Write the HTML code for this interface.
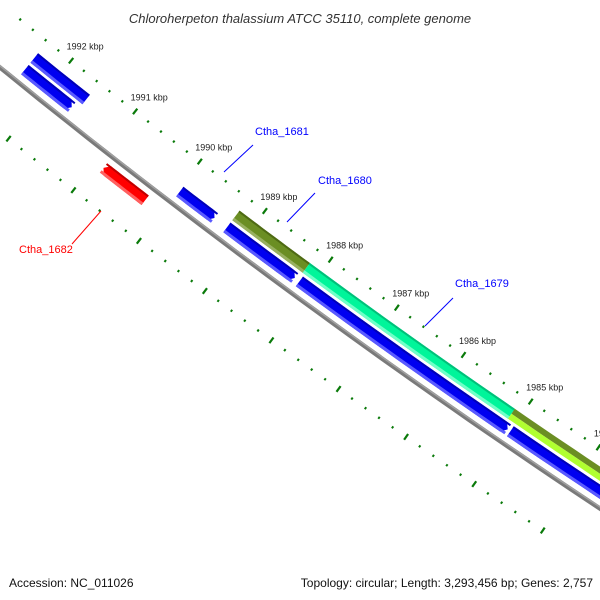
<!DOCTYPE html>
<html><head><meta charset="utf-8"><style>
html,body{margin:0;padding:0;background:#fff;}
svg{display:block;font-family:"Liberation Sans",sans-serif;}
</style></head><body>
<svg id="chart" width="600" height="600" viewBox="0 0 600 600" xmlns="http://www.w3.org/2000/svg">
<g id="ticks"></g>
<g id="backbone"></g>
<g id="features"></g>
<g id="labels"></g>
<g font-size="11">
<line x1="253" y1="145" x2="224" y2="172" stroke="#0000ff" stroke-width="1"/>
<text x="255" y="135" fill="#0000ff">Ctha_1681</text>
<line x1="315" y1="193" x2="287" y2="222" stroke="#0000ff" stroke-width="1"/>
<text x="318" y="184" fill="#0000ff">Ctha_1680</text>
<line x1="453" y1="298" x2="425" y2="326" stroke="#0000ff" stroke-width="1"/>
<text x="455" y="287" fill="#0000ff">Ctha_1679</text>
<line x1="72" y1="244" x2="101" y2="211" stroke="#ff0000" stroke-width="1"/>
<text x="19" y="253" fill="#ff0000">Ctha_1682</text>
</g>
<text x="300" y="23" text-anchor="middle" font-size="13" font-style="italic" fill="#333">Chloroherpeton thalassium ATCC 35110, complete genome</text>
<text x="9" y="587" font-size="12" fill="#111">Accession: NC_011026</text>
<text x="593" y="587" text-anchor="end" font-size="12" fill="#111">Topology: circular; Length: 3,293,456 bp; Genes: 2,757</text>
</svg>
<script>
const tickMajors = [1984, 1985, 1986, 1987, 1988, 1989, 1990, 1991, 1992, 1993];
const tickLabels = ["1984 kbp","1985 kbp","1986 kbp","1987 kbp","1988 kbp","1989 kbp","1990 kbp","1991 kbp","1992 kbp","1993 kbp"];
const featStart = [1992.37, 1992.37, 1990.88, 1989.97, 1989.25, 1988.15, 1985.00, 1989.25, 1988.18, 1985.11, 1985.11];
const featEnd   = [1991.56, 1991.64, 1990.24, 1989.44, 1988.22, 1985.04, 1983.00, 1988.18, 1985.11, 1983.00, 1983.00];
const featTrack = ["t2","t1","rev","t1","t1","t1","t1","t2","t2","t2up","t2lo"];
const featColor = ["blue","blue","red","blue","blue","blue","blue","olive","spring","olive","lime"];
const featNames = ["gene-1992a","gene-1992b","ctha-1682","ctha-1681","ctha-1680-a","ctha-1680-b","gene-1985","olive-1989","ctha-1679","olive-1985","lime-1985"];

const NS = "http://www.w3.org/2000/svg";
const CX = 4855, CY = -5909, R0 = 7700;
const TH0 = Math.atan2(57 - CY, 74 - CX);
const TH1 = Math.atan2(407 - CY, 527 - CX);
const DTH = (TH0 - TH1) / 7;
function ang(k){ return TH0 - (1992 - k) * DTH; }
function pt(k, v){ const t = ang(k), r = R0 - v; return [CX + r*Math.cos(t), CY + r*Math.sin(t)]; }
const trackV = { t1:[8,20], t2:[23,35], rev:[-20,-8], t2up:[29,35], t2lo:[23,29] };
const palette = {
  blue:["#0000f0","#5a5aff","#0000b8"],
  red:["#ff0000","#ff6060","#c00000"],
  olive:["#6b8e23","#98b060","#4e6a14"],
  spring:["#00f59a","#70ffc8","#00c07a"],
  lime:["#b0ff30","#d8ff80","#8ccc20"]
};
function band(k1,k2,v1,v2,arrow){
  const n = 12, pts = [];
  const ah = 0.06;
  let a1=k1,a2=k2;
  if(arrow==="fwd") a2 = k2 + ah;
  if(arrow==="rev") a1 = k1 - ah;
  for(let i=0;i<=n;i++){ pts.push(pt(a1+(a2-a1)*i/n, v2)); }
  if(arrow==="fwd") pts.push(pt(k2,(v1+v2)/2));
  for(let i=n;i>=0;i--){ pts.push(pt(a1+(a2-a1)*i/n, v1)); }
  if(arrow==="rev") pts.push(pt(k1,(v1+v2)/2));
  return pts.map(p=>p[0].toFixed(1)+","+p[1].toFixed(1)).join(" ");
}
const fg = document.getElementById("features");
for(let i=0;i<featStart.length;i++){
  const [v1,v2] = trackV[featTrack[i]];
  const col = palette[featColor[i]];
  let arrow = "none";
  if(featTrack[i]==="t1") arrow="fwd";
  if(featTrack[i]==="rev") arrow="rev";
  const g = document.createElementNS(NS,"g");
  
  
  const main = document.createElementNS(NS,"polygon");
  
  
  main.setAttribute("points", band(featStart[i],featEnd[i],v1,v2,arrow));
  main.setAttribute("fill", col[0]);
  g.appendChild(main);
  const split = featTrack[i]==="t2up"||featTrack[i]==="t2lo";
  if(!split){
    const lo = document.createElementNS(NS,"polygon");
    
    
    lo.setAttribute("points", band(featStart[i],featEnd[i],v1,v1+3,"none"));
    lo.setAttribute("fill", col[1]);
    g.appendChild(lo);
    const hi = document.createElementNS(NS,"polygon");
    
    
    hi.setAttribute("points", band(featStart[i],featEnd[i],v2-2,v2,"none"));
    hi.setAttribute("fill", col[2]);
    g.appendChild(hi);
  }
  fg.appendChild(g);
}
// backbone
const bb = document.getElementById("backbone");
const bpts = [];
for(let k=1994;k>=1982;k-=0.25){ const p=pt(k,0); bpts.push(p[0].toFixed(1)+","+p[1].toFixed(1)); }
const bl = document.createElementNS(NS,"polyline");


bl.setAttribute("points", bpts.join(" "));
bl.setAttribute("fill","none"); bl.setAttribute("stroke","#7a7a7a"); bl.setAttribute("stroke-width","4.5");
bb.appendChild(bl);
const bl2 = document.createElementNS(NS,"polyline");


bl2.setAttribute("points", bpts.join(" "));
bl2.setAttribute("fill","none"); bl2.setAttribute("stroke","#a0a0a0"); bl2.setAttribute("stroke-width","1.5");
bl2.setAttribute("transform","translate(0.8,-1)");
bb.appendChild(bl2);
// ticks
const tg = document.getElementById("ticks");
for(let m=0;m<tickMajors.length-1;m++){
  for(let s=0;s<5;s++){
    const k = tickMajors[m] + s*0.2;
    const major = s===0;
    [50,-50].forEach(function(vc){
      const half = major?3.5:1.2;
      const a = pt(k, vc-half), b = pt(k, vc+half);
      const ln = document.createElementNS(NS,"line");
      
      
      ln.setAttribute("x1",a[0].toFixed(1)); ln.setAttribute("y1",a[1].toFixed(1));
      ln.setAttribute("x2",b[0].toFixed(1)); ln.setAttribute("y2",b[1].toFixed(1));
      ln.setAttribute("stroke","#0a7a0a"); ln.setAttribute("stroke-width", major?"2.2":"2");
      tg.appendChild(ln);
    });
  }
}
const lg = document.getElementById("labels");
for(let m=0;m<tickMajors.length;m++){
  const p = pt(tickMajors[m], 50);
  const t = document.createElementNS(NS,"text");
  
  
  t.setAttribute("x",(p[0]+14).toFixed(1)); t.setAttribute("y",(p[1]-11).toFixed(1));
  t.setAttribute("text-anchor","middle"); t.setAttribute("font-size","9"); t.setAttribute("fill","#222");
  t.textContent = tickLabels[m];
  lg.appendChild(t);
}
</script>
</body></html>
